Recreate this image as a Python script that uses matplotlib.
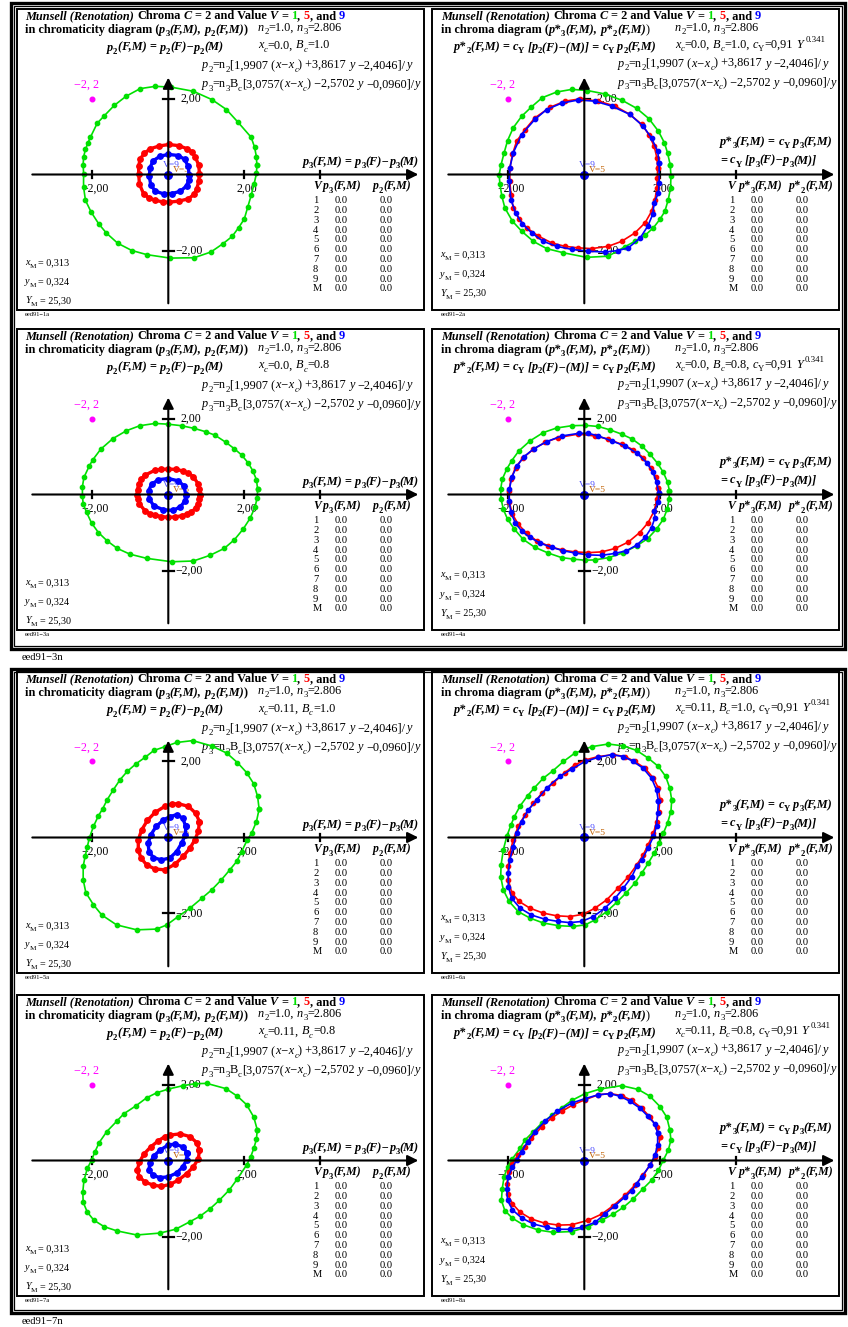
import matplotlib
matplotlib.use("Agg")
import matplotlib.pyplot as plt
from matplotlib.font_manager import FontProperties
from matplotlib.patches import Rectangle

W, H = 848, 1327
SERIF = "Liberation Serif"
GREEN = "#00e000"
RED = "#ff0000"
BLUE = "#0000ff"
MAGENTA = "#ff00ff"
PX = 38.0  # pixels per unit on both axes

# ---- curves (p3, p2); G = V1, R = V5, B = V9 ----
G1A = [(2.33, 0.24), (2.32, 0.46), (2.27, 0.72), (2.18, 0.98), (1.84, 1.37), (1.53, 1.71), (1.15, 1.97),
       (0.66, 2.19), (0.07, 2.30), (-0.34, 2.32), (-0.74, 2.26), (-1.11, 2.06), (-1.42, 1.82), (-1.68, 1.55),
       (-1.87, 1.35), (-2.05, 0.98), (-2.12, 0.82), (-2.18, 0.66), (-2.23, 0.46), (-2.24, 0.26), (-2.23, 0.02),
       (-2.23, -0.33), (-2.18, -0.68), (-2.03, -0.99), (-1.83, -1.30), (-1.63, -1.54), (-1.33, -1.81),
       (-0.96, -2.00), (-0.56, -2.11), (0.05, -2.20), (0.68, -2.19), (1.12, -2.04), (1.44, -1.82),
       (1.68, -1.63), (1.85, -1.40), (2.00, -1.17), (2.09, -0.86), (2.18, -0.55), (2.26, -0.24), (2.32, 0.03)]
R1A = [(0.82, 0.02), (0.80, 0.25), (0.71, 0.46), (0.62, 0.60), (0.49, 0.68), (0.27, 0.76), (0.01, 0.79),
       (-0.24, 0.75), (-0.47, 0.68), (-0.63, 0.56), (-0.74, 0.41), (-0.78, 0.22), (-0.78, 0.02),
       (-0.76, -0.25), (-0.65, -0.51), (-0.50, -0.62), (-0.34, -0.68), (-0.15, -0.72), (0.01, -0.73),
       (0.28, -0.70), (0.53, -0.64), (0.68, -0.52), (0.75, -0.38), (0.80, -0.18)]
B1A = [(0.55, 0.0), (0.52, 0.22), (0.43, 0.40), (0.26, 0.50), (0.0, 0.53), (-0.22, 0.48), (-0.40, 0.36),
       (-0.48, 0.18), (-0.50, -0.05), (-0.46, -0.28), (-0.34, -0.44), (-0.12, -0.51), (0.10, -0.50),
       (0.32, -0.44), (0.48, -0.30), (0.54, -0.14)]

G2A = [(2.26, 0.26), (2.19, 0.57), (2.11, 0.83), (1.95, 1.14), (1.70, 1.47), (1.38, 1.74), (1.0, 1.95),
       (0.54, 2.12), (0.08, 2.21), (-0.33, 2.24), (-0.73, 2.17), (-1.11, 2.02), (-1.40, 1.77), (-1.65, 1.53),
       (-1.87, 1.23), (-2.02, 0.89), (-2.11, 0.57), (-2.19, 0.26), (-2.24, 0.0), (-2.22, -0.26),
       (-2.17, -0.57), (-2.09, -0.88), (-1.89, -1.23), (-1.65, -1.49), (-1.34, -1.76), (-0.99, -1.95),
       (-0.55, -2.06), (0.06, -2.18), (0.63, -2.15), (1.07, -1.90), (1.33, -1.76), (1.60, -1.60),
       (1.82, -1.40), (1.99, -1.18), (2.12, -0.97), (2.21, -0.66), (2.27, -0.35), (2.28, -0.04)]
R2A = [(1.93, 0.17), (1.91, 0.44), (1.84, 0.74), (1.70, 1.05), (1.51, 1.32), (1.20, 1.58), (0.81, 1.80),
       (0.37, 1.93), (-0.11, 1.99), (-0.51, 1.93), (-0.90, 1.77), (-1.30, 1.49), (-1.56, 1.18), (-1.78, 0.88),
       (-1.89, 0.53), (-1.96, 0.17), (-1.96, -0.18), (-1.93, -0.53), (-1.87, -0.88), (-1.72, -1.16),
       (-1.52, -1.40), (-1.21, -1.62), (-0.86, -1.80), (-0.51, -1.89), (-0.16, -1.93), (0.19, -1.95),
       (0.63, -1.89), (0.98, -1.76), (1.33, -1.54), (1.60, -1.27), (1.77, -0.97), (1.86, -0.66),
       (1.91, -0.35), (1.92, -0.09)]
B2A = [(1.97, 0.31), (1.93, 0.61), (1.77, 0.96), (1.55, 1.27), (1.20, 1.58), (0.72, 1.80), (0.28, 1.93),
       (-0.16, 1.96), (-0.59, 1.88), (-0.99, 1.71), (-1.30, 1.45), (-1.65, 1.05), (-1.87, 0.57), (-1.96, 0.17),
       (-1.98, -0.18), (-1.93, -0.66), (-1.81, -1.01), (-1.63, -1.30), (-1.38, -1.54), (-1.08, -1.76),
       (-0.73, -1.89), (-0.33, -1.97), (0.11, -2.02), (0.54, -2.04), (0.89, -2.00), (1.16, -1.93),
       (1.47, -1.67), (1.67, -1.36), (1.80, -1.05), (1.84, -0.75), (1.95, -0.48), (1.97, -0.22)]

G3A = [(2.35, 0.14), (2.32, 0.39), (2.22, 0.63), (2.11, 0.82), (1.93, 1.04), (1.73, 1.21), (1.52, 1.37),
       (1.23, 1.56), (0.99, 1.65), (0.68, 1.74), (0.35, 1.81), (0.0, 1.85), (-0.35, 1.87), (-0.75, 1.81),
       (-1.10, 1.68), (-1.46, 1.47), (-1.78, 1.19), (-1.99, 0.91), (-2.08, 0.75), (-2.22, 0.45), (-2.26, 0.21),
       (-2.26, -0.04), (-2.24, -0.25), (-2.15, -0.47), (-2.02, -0.75), (-1.84, -1.00), (-1.61, -1.22),
       (-1.34, -1.42), (-1.01, -1.57), (-0.57, -1.68), (0.09, -1.77), (0.66, -1.75), (1.10, -1.60),
       (1.47, -1.42), (1.74, -1.19), (1.97, -0.91), (2.15, -0.63), (2.28, -0.34), (2.34, -0.08)]
R3A = [(0.83, 0.0), (0.82, 0.14), (0.79, 0.27), (0.66, 0.47), (0.53, 0.56), (0.39, 0.62), (0.2, 0.66),
       (0.0, 0.67), (-0.18, 0.66), (-0.35, 0.64), (-0.61, 0.51), (-0.71, 0.40), (-0.78, 0.27), (-0.81, 0.13),
       (-0.82, 0.0), (-0.80, -0.13), (-0.76, -0.25), (-0.61, -0.43), (-0.49, -0.50), (-0.35, -0.54),
       (-0.18, -0.58), (0.0, -0.60), (0.18, -0.59), (0.35, -0.56), (0.49, -0.52), (0.61, -0.46),
       (0.72, -0.36), (0.79, -0.25), (0.82, -0.12)]
B3A = [(0.46, 0.0), (0.41, 0.23), (0.26, 0.36), (0.0, 0.42), (-0.26, 0.39), (-0.44, 0.27), (-0.52, 0.10),
       (-0.50, -0.12), (-0.38, -0.30), (-0.13, -0.40), (0.13, -0.42), (0.32, -0.32), (0.44, -0.17)]

G4A = [(2.24, 0.10), (2.19, 0.33), (2.08, 0.58), (1.93, 0.82), (1.73, 1.06), (1.51, 1.28), (1.26, 1.46),
       (0.98, 1.59), (0.68, 1.70), (0.37, 1.79), (0.02, 1.82), (-0.33, 1.81), (-0.73, 1.75), (-1.08, 1.63),
       (-1.43, 1.41), (-1.72, 1.15), (-1.91, 0.89), (-2.04, 0.67), (-2.16, 0.40), (-2.20, 0.14),
       (-2.19, -0.12), (-2.13, -0.39), (-2.02, -0.65), (-1.84, -0.91), (-1.61, -1.18), (-1.30, -1.39),
       (-0.95, -1.54), (-0.60, -1.66), (-0.29, -1.70), (0.02, -1.73), (0.28, -1.72), (0.65, -1.66),
       (1.03, -1.53), (1.38, -1.35), (1.67, -1.16), (1.90, -0.91), (2.08, -0.65), (2.18, -0.39), (2.23, -0.12)]
R4A = [(1.94, 0.16), (1.88, 0.45), (1.75, 0.71), (1.55, 0.97), (1.29, 1.18), (0.98, 1.32), (0.63, 1.46),
       (0.28, 1.54), (-0.16, 1.59), (-0.68, 1.50), (-1.04, 1.37), (-1.34, 1.19), (-1.61, 0.97), (-1.81, 0.71),
       (-1.93, 0.40), (-1.98, 0.10), (-1.97, -0.21), (-1.89, -0.52), (-1.74, -0.78), (-1.52, -1.02),
       (-1.25, -1.22), (-0.95, -1.35), (-0.60, -1.46), (-0.25, -1.51), (0.11, -1.53), (0.46, -1.51),
       (0.81, -1.42), (1.16, -1.25), (1.46, -1.00), (1.68, -0.74), (1.84, -0.43), (1.91, -0.12)]
B4A = [(1.96, 0.05), (1.90, 0.32), (1.81, 0.58), (1.64, 0.84), (1.38, 1.09), (1.07, 1.28), (0.72, 1.41),
       (0.37, 1.54), (0.11, 1.61), (-0.14, 1.61), (-0.60, 1.54), (-0.99, 1.39), (-1.32, 1.21), (-1.58, 1.00),
       (-1.78, 0.74), (-1.91, 0.45), (-1.97, 0.14), (-1.98, -0.17), (-1.93, -0.47), (-1.82, -0.74),
       (-1.65, -0.96), (-1.43, -1.13), (-1.16, -1.28), (-0.86, -1.39), (-0.55, -1.48), (-0.25, -1.54),
       (0.11, -1.59), (0.46, -1.60), (0.81, -1.55), (1.11, -1.48), (1.38, -1.33), (1.60, -1.13),
       (1.77, -0.87), (1.86, -0.61), (1.84, -0.43), (1.95, -0.21)]

G5A = [(2.39, 0.75), (2.35, 1.08), (2.25, 1.41), (2.06, 1.71), (1.82, 1.97), (1.54, 2.22), (1.14, 2.41),
       (0.64, 2.55), (0.22, 2.50), (-0.09, 2.39), (-0.38, 2.29), (-0.61, 2.11), (-0.85, 1.94), (-1.08, 1.74),
       (-1.27, 1.52), (-1.45, 1.25), (-1.61, 0.99), (-1.73, 0.75), (-1.84, 0.57), (-1.97, 0.29),
       (-2.08, -0.02), (-2.13, -0.24), (-2.19, -0.50), (-2.24, -0.76), (-2.24, -1.11), (-2.17, -1.45),
       (-1.97, -1.77), (-1.75, -2.04), (-1.36, -2.30), (-0.83, -2.43), (-0.31, -2.41), (-0.04, -2.30),
       (0.26, -2.08), (0.57, -1.86), (0.88, -1.60), (1.14, -1.38), (1.40, -1.11), (1.62, -0.85),
       (1.80, -0.63), (1.93, -0.37), (2.08, -0.06), (2.19, 0.11), (2.32, 0.42)]
R5A = [(0.82, 0.42), (0.79, 0.16), (0.70, -0.06), (0.57, -0.28), (0.39, -0.50), (0.18, -0.70), (-0.09, -0.85),
       (-0.35, -0.83), (-0.57, -0.72), (-0.72, -0.54), (-0.79, -0.32), (-0.79, -0.06), (-0.70, 0.20),
       (-0.55, 0.45), (-0.35, 0.66), (-0.09, 0.82), (0.09, 0.88), (0.26, 0.89), (0.53, 0.82), (0.72, 0.64)]
B5A = [(0.46, 0.29), (0.45, 0.07), (0.35, -0.15), (0.22, -0.37), (0.04, -0.54), (-0.18, -0.59), (-0.39, -0.53),
       (-0.51, -0.37), (-0.53, -0.15), (-0.46, 0.07), (-0.32, 0.29), (-0.13, 0.46), (0.04, 0.55), (0.22, 0.60),
       (0.38, 0.51)]

G6A = [(2.30, 0.99), (2.25, 1.30), (2.14, 1.61), (1.95, 1.87), (1.68, 2.09), (1.38, 2.29), (1.03, 2.41),
       (0.63, 2.46), (0.19, 2.39), (-0.25, 2.22), (-0.55, 2.00), (-0.82, 1.76), (-1.08, 1.56), (-1.32, 1.30),
       (-1.49, 1.10), (-1.69, 0.83), (-1.84, 0.55), (-1.93, 0.33), (-2.04, 0.03), (-2.13, -0.32),
       (-2.19, -0.72), (-2.20, -1.03), (-2.13, -1.38), (-1.98, -1.68), (-1.74, -1.95), (-1.43, -2.12),
       (-1.08, -2.25), (-0.68, -2.32), (-0.29, -2.34), (0.02, -2.30), (0.28, -2.17), (0.59, -1.95),
       (0.85, -1.71), (1.11, -1.45), (1.33, -1.20), (1.51, -0.94), (1.68, -0.68), (1.84, -0.41),
       (1.96, -0.15), (2.08, 0.11), (2.19, 0.38), (2.28, 0.68)]
R6A = [(1.99, 0.99), (1.96, 0.68), (1.90, 0.42), (1.82, 0.11), (1.68, -0.19), (1.55, -0.46), (1.38, -0.72),
       (1.16, -1.03), (0.89, -1.33), (0.59, -1.64), (0.28, -1.86), (-0.03, -2.02), (-0.38, -2.08),
       (-0.73, -2.06), (-1.08, -1.99), (-1.43, -1.86), (-1.72, -1.68), (-1.91, -1.45), (-2.00, -1.11),
       (-2.00, -0.76), (-1.96, -0.41), (-1.87, -0.06), (-1.74, 0.29), (-1.56, 0.60), (-1.34, 0.90),
       (-1.11, 1.17), (-0.82, 1.43), (-0.51, 1.71), (-0.25, 1.91), (0.02, 2.04), (0.37, 2.13), (0.76, 2.18),
       (1.07, 2.13), (1.33, 2.00), (1.60, 1.82), (1.82, 1.56), (1.95, 1.30)]
B6A = [(1.95, 0.95), (1.93, 0.64), (1.90, 0.29), (1.82, 0.03), (1.68, -0.28), (1.51, -0.59), (1.38, -0.76),
       (1.25, -1.03), (1.03, -1.33), (0.81, -1.60), (0.54, -1.86), (0.24, -2.08), (-0.07, -2.21),
       (-0.38, -2.24), (-0.68, -2.21), (-1.04, -2.15), (-1.39, -2.04), (-1.69, -1.86), (-1.91, -1.60),
       (-2.00, -1.29), (-2.00, -0.94), (-1.96, -0.59), (-1.87, -0.24), (-1.78, 0.11), (-1.65, 0.42),
       (-1.47, 0.73), (-1.25, 0.99), (-0.99, 1.30), (-0.64, 1.61), (-0.33, 1.80), (0.02, 2.00), (0.37, 2.11),
       (0.72, 2.18), (1.03, 2.13), (1.29, 2.00), (1.55, 1.82), (1.77, 1.56), (1.90, 1.25)]

G7A = [(2.34, 0.81), (2.32, 0.56), (2.25, 0.32), (2.17, 0.10), (2.06, -0.12), (1.82, -0.48), (1.61, -0.77),
       (1.34, -1.05), (1.10, -1.27), (0.83, -1.47), (0.57, -1.61), (0.19, -1.81), (-0.22, -1.91),
       (-0.83, -1.96), (-1.36, -1.85), (-1.69, -1.74), (-1.96, -1.57), (-2.13, -1.36), (-2.24, -1.10),
       (-2.25, -0.83), (-2.22, -0.52), (-2.13, -0.21), (-2.02, 0.01), (-1.93, 0.23), (-1.82, 0.47),
       (-1.62, 0.76), (-1.36, 1.03), (-1.17, 1.23), (-0.85, 1.44), (-0.57, 1.65), (-0.31, 1.78), (0.0, 1.88),
       (0.39, 1.97), (0.70, 2.02), (1.01, 2.03), (1.52, 1.89), (1.82, 1.69), (2.06, 1.47), (2.25, 1.14)]
R7A = [(0.82, 0.27), (0.79, 0.05), (0.66, -0.17), (0.48, -0.35), (0.26, -0.52), (0.04, -0.63), (-0.18, -0.68),
       (-0.39, -0.65), (-0.61, -0.57), (-0.76, -0.43), (-0.82, -0.26), (-0.76, -0.04), (-0.64, 0.17),
       (-0.46, 0.36), (-0.26, 0.52), (-0.09, 0.63), (0.04, 0.67), (0.31, 0.70), (0.57, 0.63), (0.75, 0.47)]
B7A = [(0.50, 0.20), (0.48, 0.01), (0.38, -0.17), (0.22, -0.33), (0.0, -0.43), (-0.22, -0.45), (-0.41, -0.39),
       (-0.51, -0.24), (-0.48, -0.06), (-0.38, 0.12), (-0.22, 0.27), (0.0, 0.41), (0.18, 0.43), (0.38, 0.36)]

G8A = [(2.25, 0.81), (2.28, 0.54), (2.21, 0.27), (2.08, 0.01), (1.95, -0.26), (1.77, -0.52), (1.55, -0.74),
       (1.29, -1.01), (1.03, -1.23), (0.76, -1.41), (0.46, -1.57), (0.11, -1.74), (-0.33, -1.87),
       (-0.82, -1.89), (-1.21, -1.83), (-1.61, -1.69), (-1.89, -1.52), (-2.09, -1.32), (-2.18, -1.05),
       (-2.16, -0.74), (-2.11, -0.43), (-2.02, -0.17), (-1.89, 0.05), (-1.69, 0.32), (-1.56, 0.54),
       (-1.34, 0.76), (-1.12, 0.98), (-0.84, 1.20), (-0.60, 1.38), (-0.33, 1.58), (0.02, 1.76), (0.41, 1.88),
       (0.98, 1.97), (1.42, 1.87), (1.73, 1.69), (1.99, 1.42), (2.17, 1.14)]
R8A = [(1.99, 0.63), (1.95, 0.32), (1.86, 0.10), (1.73, -0.12), (1.55, -0.39), (1.33, -0.65), (1.07, -0.92),
       (0.76, -1.19), (0.46, -1.41), (0.11, -1.57), (-0.33, -1.69), (-0.68, -1.70), (-1.04, -1.65),
       (-1.39, -1.54), (-1.69, -1.36), (-1.89, -1.14), (-2.02, -0.88), (-2.04, -0.61), (-1.98, -0.30),
       (-1.89, -0.08), (-1.75, 0.14), (-1.56, 0.36), (-1.39, 0.58), (-1.12, 0.89), (-0.86, 1.12),
       (-0.60, 1.29), (-0.29, 1.47), (0.02, 1.60), (0.37, 1.73), (0.68, 1.76), (0.98, 1.71), (1.25, 1.58),
       (1.51, 1.38), (1.73, 1.14), (1.90, 0.89)]
B8A = [(1.93, 0.72), (1.93, 0.41), (1.86, 0.14), (1.73, -0.12), (1.51, -0.43), (1.38, -0.61), (1.25, -0.79),
       (1.07, -0.96), (0.81, -1.19), (0.54, -1.41), (0.28, -1.63), (-0.07, -1.76), (-0.38, -1.81),
       (-0.68, -1.81), (-0.99, -1.76), (-1.34, -1.67), (-1.65, -1.51), (-1.89, -1.30), (-2.02, -1.05),
       (-2.04, -0.74), (-2.00, -0.43), (-1.89, -0.17), (-1.78, 0.01), (-1.65, 0.23), (-1.49, 0.50),
       (-1.30, 0.76), (-1.04, 1.03), (-0.73, 1.29), (-0.33, 1.51), (0.02, 1.63), (0.37, 1.73), (0.68, 1.76),
       (0.94, 1.69), (1.20, 1.56), (1.46, 1.38), (1.68, 1.16), (1.86, 0.96)]

# per-panel parameters and table
XC_VALUES = ["0.0", "0.0", "0.11", "0.11"]
BC_VALUES = ["1.0", "0.8", "1.0", "0.8"]
PANEL_IDS = ["1a", "2a", "3a", "4a", "5a", "6a", "7a", "8a"]
GROUP_IDS = ["3n", "7n"]
ROW_LABELS = ["1", "2", "3", "4", "5", "6", "7", "8", "9", "M"]
ROW_P3 = ["0.0"] * 10
ROW_P2 = ["0.0"] * 10
X_M, Y_M, BIGY_M = "0,313", "0,324", "25,30"
H_TICKS = [-2, 2, 4]
V_TICKS = [2, -2]
H_TICK_LABELS = {-2: "\u22122,00", 2: "2,00"}
V_TICK_LABELS = {2: "2,00", -2: "\u22122,00"}

FS = 8.8   # main text size
HS = 8.5   # table header size

fig = plt.figure(figsize=(W / 100, H / 100), dpi=100)
base = fig.add_axes([0, 0, 1, 1])
base.set_xlim(0, W)
base.set_ylim(H, 0)
base.axis("off")
rend = fig.canvas.get_renderer()

STY = {"r": ("normal", "normal"), "i": ("italic", "normal"),
       "b": ("normal", "bold"), "bi": ("italic", "bold")}


def fprop(style, size):
    st, wt = STY[style]
    return FontProperties(family=SERIF, style=st, weight=wt, size=size)


def width(s, prop):
    a = rend.get_text_width_height_descent("|" + s + "|", prop, False)[0]
    b = rend.get_text_width_height_descent("||", prop, False)[0]
    return a - b


def runs(x, y, parts, size=FS, color="k"):
    px = size * 100 / 72
    for part in parts:
        s, st = part[0], part[1]
        col = part[2] if len(part) > 2 and part[2] else color
        scr = part[3] if len(part) > 3 else None
        prop = fprop(st, size * 0.72 if scr else size)
        dy = 0.28 * px if scr == "sub" else (-0.45 * px if scr == "sup" else 0)
        lead = len(s) - len(s.lstrip(" "))
        core = s.strip(" ")
        if core:
            x0 = x + (width(" " * lead, prop) if lead else 0)
            base.text(x0, y + dy, core, fontproperties=prop, color=col, va="baseline", ha="left")
        x += width(s, prop)
    return x


SUB = "sub"
TITLE = [("Munsell (Renotation)", "bi"), (" Chroma ", "b"), ("C", "bi"), (" = 2 and Value ", "b"),
         ("V", "bi"), (" = ", "b"), ("1", "b", GREEN), (", ", "b"), ("5", "b", RED), (", and ", "b"),
         ("9", "b", BLUE)]
N_LINE = [("n", "i"), ("2", "r", None, SUB), ("=1.0, ", "r"), ("n", "i"), ("3", "r", None, SUB), ("=2.806", "r")]
P2_LINE = [("p", "i"), ("2", "r", None, SUB), ("=n", "r"), ("2", "r", None, SUB), ("[1,9907 (", "r"),
           ("x\u2212x", "i"), ("c", "i", None, SUB), (") +3,8617 ", "r"), ("y", "i"), (" \u22122,4046]/", "r"),
           ("y", "i")]
P3_LINE = [("p", "i"), ("3", "r", None, SUB), ("=n", "r"), ("3", "r", None, SUB), ("B", "r"), ("c", "r", None, SUB),
           ("[3,0757(", "r"), ("x\u2212x", "i"), ("c", "i", None, SUB), (") \u22122,5702 ", "r"), ("y", "i"),
           (" \u22120,0960]/", "r"), ("y", "i")]


def pf(p, n, tail):
    return [(p, "bi"), (n, "b", None, SUB), (tail, "bi")]


def draw_panel(idx, L, T, right, g, r, b):
    xc, bc = XC_VALUES[idx // 2], BC_VALUES[idx // 2]
    ox, oy = L + (152.3 if right else 151.3), T + 165.5
    # frame
    base.add_patch(Rectangle((L, T), 407, 301, fill=False, lw=1.4, ec="k"))
    runs(L + (9 if right else 8), T + 10, TITLE)
    if not right:
        runs(L + 8, T + 24, [("in chromaticity diagram (", "b")] + pf("p", "3", "(F,M), ")
             + pf("p", "2", "(F,M)") + [(")", "b")])
        runs(L + 241, T + 21.7, N_LINE)
        runs(L + 90, T + 41.5, pf("p", "2", "(F,M) = ") + pf("p", "2", "(F)\u2212") + pf("p", "2", "(M)"))
        runs(L + 241, T + 39.5, [("x", "i"), ("c", "i", None, SUB), ("=" + xc + ", ", "r"), ("B", "i"),
                                 ("c", "i", None, SUB), ("=" + bc, "r")])
        runs(L + 185, T + 59.3, P2_LINE)
        runs(L + 185, T + 78.3, P3_LINE)
        runs(L + 286, T + 156, pf("p", "3", "(F,M) = ") + pf("p", "3", "(F)\u2212") + pf("p", "3", "(M)"))
        runs(L + 296, T + 180.3, [("V", "bi")], size=HS)
        runs(L + 306, T + 180.3, pf("p", "3", "(F,M)"), size=HS)
        runs(L + 356, T + 180.3, pf("p", "2", "(F,M)"), size=HS)
        cols, ym = (296, 318, 363), (256, 275, 294.3)
    else:
        runs(L + 9, T + 24, [("in chroma diagram (", "b")] + pf("p*", "3", "(F,M), ")
             + pf("p*", "2", "(F,M)") + [(")", "r")])
        runs(L + 243, T + 21.7, N_LINE)
        runs(L + 22, T + 41, pf("p*", "2", "(F,M) = ") + pf("c", "Y", " [") + pf("p", "2", "(F)\u2212(M)] = ")
             + pf("c", "Y", " ") + pf("p", "2", "(F,M)"))
        runs(L + 243, T + 38.7, [("x", "i"), ("c", "i", None, SUB), ("=" + xc + ", ", "r"), ("B", "i"),
                                 ("c", "i", None, SUB), ("=" + bc + ", ", "r"), ("c", "i"), ("Y", "r", None, SUB),
                                 ("=0,91 ", "r"), ("Y", "i"), (" 0.341", "r", None, "sup")])
        runs(L + 186, T + 57.7, P2_LINE)
        runs(L + 186, T + 77, P3_LINE)
        runs(L + 288, T + 136, pf("p*", "3", "(F,M) = ") + pf("c", "Y", " ") + pf("p", "3", "(F,M)"))
        runs(L + 288, T + 154.3, [("= ", "bi")] + pf("c", "Y", " [") + pf("p", "3", "(F)\u2212")
             + pf("p", "3", "(M)]"))
        runs(L + 295, T + 180.3, [("V", "bi")], size=HS)
        runs(L + 306.5, T + 180.3, pf("p*", "3", "(F,M)"), size=HS)
        runs(L + 357, T + 180.3, pf("p*", "2", "(F,M)"), size=HS)
        cols, ym = (297, 319, 364), (248.3, 267.7, 286.7)
    for i, lab in enumerate(ROW_LABELS):
        yy = T + 194.3 + i * 9.78
        for cx, s in zip(cols, (lab, ROW_P3[i], ROW_P2[i])):
            base.text(L + cx, yy, s, fontproperties=fprop("r", 7.6), va="baseline")
    runs(L + 8, T + ym[0], [("x", "i"), ("M", "r", None, SUB), (" = " + X_M, "r")], size=7.3)
    runs(L + 8, T + ym[1], [("y", "i"), ("M", "r", None, SUB), (" = " + Y_M, "r")], size=7.3)
    runs(L + 8, T + ym[2], [("Y", "i"), ("M", "r", None, SUB), (" = " + BIGY_M, "r")], size=7.3)
    base.text(L + (9 if right else 8), T + 306.7, "eed91\u2212" + PANEL_IDS[idx],
              fontproperties=fprop("r", 4.6), va="baseline")
    # tick labels and value labels
    for t, s in H_TICK_LABELS.items():
        base.text(ox + t * PX + 3, oy + 17, s, fontproperties=fprop("r", 8.5), ha="center", va="baseline")
    base.text(ox + 12, oy - 72.3, V_TICK_LABELS[2], fontproperties=fprop("r", 8.5), va="baseline")
    base.text(ox + 7, oy + 79.3, V_TICK_LABELS[-2], fontproperties=fprop("r", 8.5), va="baseline")
    base.text(ox - 94, oy - 87, "\u22122, 2", fontproperties=fprop("r", 8.7), color=MAGENTA, va="baseline")
    base.text(ox - 5.5, oy - 7.6, "V=9", fontproperties=fprop("r", 6.8), color="#4b4bff", va="baseline")
    base.text(ox + 4.3, oy - 2.6, "V=5", fontproperties=fprop("r", 6.8), color="#c06000", va="baseline")

    # plotting axes in data units
    ax = fig.add_axes([L / W, 1 - (T + 301) / H, 407 / W, 301 / H])
    ax.set_xlim((L - ox) / PX, (L + 407 - ox) / PX)
    ax.set_ylim((oy - (T + 301)) / PX, (oy - T) / PX)
    ax.axis("off")
    ax.patch.set_alpha(0)
    x0, x1 = (32 - 168) / PX, (418 - 168) / PX
    y0, y1 = -3.39, 2.55
    ax.annotate("", xy=(x1, 0), xytext=(x0, 0),
                arrowprops=dict(arrowstyle="-|>", color="k", lw=1.5, mutation_scale=16, shrinkA=0, shrinkB=0))
    ax.annotate("", xy=(0, y1), xytext=(0, y0),
                arrowprops=dict(arrowstyle="-|>", color="k", lw=1.5, mutation_scale=16, shrinkA=0, shrinkB=0))
    for t in H_TICKS:
        ax.plot([t, t], [-0.1, 0.1], color="k", lw=1.6)
    for t in V_TICKS:
        ax.plot([-0.14, 0.14], [t, t], color="k", lw=1.6)
    for pts, col in ((g, GREEN), (r, RED), (b, BLUE)):
        xs = [p[0] for p in pts] + [pts[0][0]]
        ys = [p[1] for p in pts] + [pts[0][1]]
        dense = not right and col != GREEN
        ax.plot(xs, ys, "-", color=col, lw=2.4 if dense else 1.2, marker="o",
                ms=3.9 if dense else 3.1, mec=col, mfc=col)
    ax.plot([0], [0], "o", color=BLUE, ms=5.5)
    ax.plot([-2], [2], "o", color=MAGENTA, ms=3.3)


CURVES = [(G1A, R1A, B1A), (G2A, R2A, B2A), (G3A, R3A, B3A), (G4A, R4A, B4A),
          (G5A, R5A, B5A), (G6A, R6A, B6A), (G7A, R7A, B7A), (G8A, R8A, B8A)]
TOPS = [9, 329, 672, 995]
for i, (g, r, b) in enumerate(CURVES):
    right = i % 2 == 1
    draw_panel(i, 432 if right else 17, TOPS[i // 2], right, g, r, b)

# group frames
for gi, (y0, y1) in enumerate(((3, 649), (669, 1313))):
    base.add_patch(Rectangle((11, y0), 834, y1 - y0, fill=False, lw=2.4, ec="k"))
    base.add_patch(Rectangle((14.2, y0 + 3.2), 827.6, y1 - y0 - 6.4, fill=False, lw=0.9, ec="k"))
    base.text(22, y1 + 10.5, "eed91\u2212" + GROUP_IDS[gi], fontproperties=fprop("r", 7.6), va="baseline")

fig.savefig("out.png", dpi=100, facecolor="white")
